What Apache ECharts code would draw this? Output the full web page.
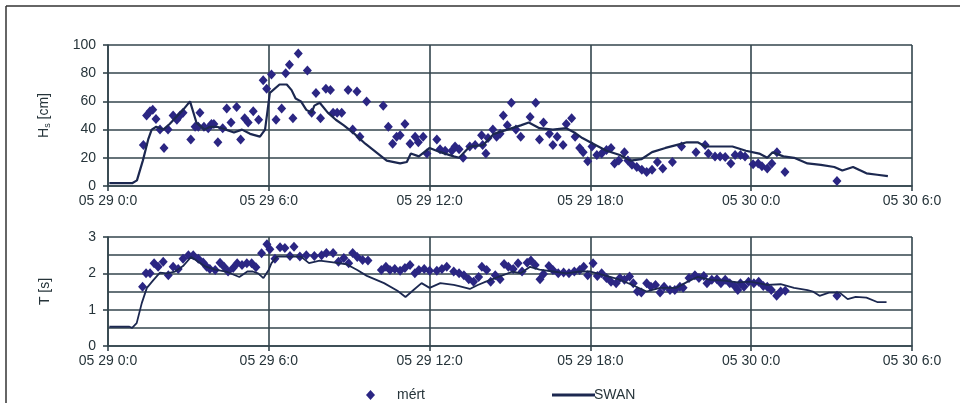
<!DOCTYPE html>
<html>
<head>
<meta charset="utf-8">
<script src="https://cdn.jsdelivr.net/npm/echarts@6/dist/echarts.min.js"></script>
<style>
  html, body { margin: 0; padding: 0; background: #fff; }
  #chart { width: 960px; height: 403px; }
</style>
</head>
<body>
<div id="chart"></div>
<script>
// Time axis: hours since 05 29 0:0, ticks every 6 hours
var xTickLabels = ['05 29 0:0', '05 29 6:0', '05 29 12:0', '05 29 18:0', '05 30 0:0', '05 30 6:0'];

// Measured significant wave height (mért), hours / cm
var measHsHours = [1.32,1.44,1.57,1.67,1.79,1.94,2.09,2.24,2.43,2.57,2.69,2.8,3.09,3.25,3.37,3.43,3.58,3.74,3.86,3.95,4.1,4.28,4.43,4.59,4.8,4.95,5.1,5.23,5.42,5.62,5.79,5.92,6.1,6.27,6.48,6.63,6.77,6.9,7.1,7.44,7.6,7.76,7.93,8.13,8.3,8.4,8.55,8.72,8.96,9.13,9.29,9.4,9.65,10.27,10.46,10.62,10.77,10.9,11.08,11.27,11.46,11.58,11.76,11.9,12.27,12.39,12.58,12.83,12.95,13.1,13.25,13.5,13.7,13.94,13.98,14.1,14.18,14.36,14.5,14.63,14.75,14.9,15.05,15.22,15.4,15.75,15.96,16.1,16.25,16.47,16.6,16.76,16.98,17.1,17.3,17.43,17.6,17.73,17.9,18.06,18.24,18.42,18.6,18.77,18.9,19.06,19.27,19.4,19.55,19.73,19.92,20.1,20.3,20.5,20.7,21.06,21.4,21.94,22.28,22.4,22.65,22.84,23.03,23.24,23.4,23.6,23.77,24.07,24.26,24.4,24.6,24.77,24.96,25.26,27.2];
var measHs = [29,50,53,54,47.5,40,27,40,50,47,50,52,33,42,42,52,42,41,44,44,31,41,55,45,56,33,48,45,53,47,75,69,79,47,55,80,86,48,94,82,52,66,48,69,68,52,52,52,68,40,67,35,60,57,42,30,35,36,44,30,35,31,35,23,33,26,25,25,28,26,20,28,29,36,29,23,34,40,35,37,50,43,59,40,35,49,59,33,45,37,29,35,29,44,48,35,27,24,17.5,28,22,23,25.5,27,16,18,24,18,15,13.5,11.5,10,11.5,17,12.5,17,28,24,29,23,21,21,20.5,16,22,22,21,15.5,16,14,12.5,16,24,10,3.5];

// SWAN model significant wave height, hours / cm
var swanHsHours = [0.05,0.7,0.9,1.08,1.3,1.5,1.63,1.8,2.06,2.3,2.6,2.8,3.06,3.3,3.6,3.8,4.07,4.4,4.7,5.0,5.3,5.67,5.86,6.04,6.4,6.67,6.85,7.0,7.2,7.4,7.6,7.7,7.9,8.2,8.5,8.8,9.2,9.6,10.0,10.4,10.9,11.15,11.3,11.6,12.0,12.4,12.9,13.1,13.5,14.0,14.4,14.9,15.4,15.7,16.1,16.6,17.1,17.4,17.7,18.1,18.6,19.1,19.5,19.9,20.3,20.8,21.2,21.6,22.0,22.3,22.7,23.3,23.8,24.3,24.6,24.8,25.2,25.6,26.1,26.6,27.1,27.4,27.8,28.3,28.7,29.1];
var swanHs = [2,2,2,4,18,33,40,42,40,44,50,54,60,45,40,42,42,40,38,40,37,35,40,66,72,72,68,62,60,54,52,57,59,52,47,43,37,30,24,18,16,17,23,21,27,24,21,20,28,29,37,40,43,45,41,40,41,38,34,30,25,22,18,19,24,27,29,31,31,28,28,28,25,23,20,24,21,20,16,15,13.5,11,13.5,9,8,7];

// Measured wave period (mért), hours / s
var measTHours = [1.29,1.42,1.57,1.72,1.87,2.06,2.25,2.43,2.62,2.8,3.0,3.18,3.37,3.55,3.68,3.8,4.0,4.18,4.33,4.48,4.67,4.82,5.0,5.18,5.36,5.52,5.73,5.93,6.04,6.23,6.42,6.6,6.79,6.94,7.16,7.4,7.7,7.97,8.15,8.4,8.6,8.8,8.98,9.13,9.3,9.5,9.7,10.2,10.37,10.52,10.7,10.9,11.08,11.27,11.45,11.6,11.8,12.0,12.27,12.46,12.64,12.9,13.1,13.28,13.46,13.64,13.83,13.95,14.13,14.28,14.45,14.63,14.78,14.94,15.12,15.3,15.45,15.64,15.78,15.94,16.12,16.25,16.45,16.6,16.8,17.0,17.2,17.4,17.6,17.75,17.9,18.1,18.26,18.42,18.6,18.77,18.96,19.1,19.27,19.46,19.6,19.75,19.9,20.1,20.26,20.43,20.6,20.75,20.97,21.15,21.34,21.46,21.68,21.9,22.05,22.23,22.35,22.53,22.72,22.87,23.03,23.2,23.38,23.5,23.6,23.73,23.9,24.1,24.28,24.45,24.6,24.75,24.95,25.1,25.27,27.2];
var measT = [1.63,2.0,2.0,2.28,2.18,2.32,1.95,2.18,2.12,2.4,2.5,2.5,2.4,2.3,2.18,2.12,2.09,2.29,2.18,2.05,2.15,2.28,2.23,2.28,2.28,2.17,2.55,2.8,2.66,2.4,2.72,2.7,2.48,2.73,2.46,2.5,2.48,2.5,2.56,2.56,2.32,2.42,2.28,2.56,2.45,2.37,2.35,2.09,2.18,2.09,2.12,2.07,2.15,2.23,2.0,2.09,2.12,2.07,2.07,2.12,2.18,2.05,2.0,1.95,1.84,1.77,1.9,2.18,2.09,1.77,1.95,1.84,2.26,2.18,2.12,2.28,2.05,2.29,2.35,2.23,1.84,1.98,2.2,2.09,2.0,2.02,2.0,2.05,2.09,2.18,1.95,2.28,1.93,2.0,1.87,1.77,1.73,1.87,1.82,1.91,1.73,1.5,1.47,1.73,1.63,1.68,1.47,1.63,1.54,1.54,1.63,1.6,1.87,1.95,1.87,1.93,1.73,1.82,1.84,1.73,1.82,1.73,1.65,1.54,1.73,1.63,1.77,1.73,1.77,1.65,1.63,1.54,1.38,1.5,1.52,1.38];

// SWAN model wave period, hours / s
var swanTHours = [0.05,0.8,0.9,1.07,1.26,1.45,1.7,1.94,2.2,2.5,2.8,3.1,3.3,3.6,4.0,4.4,4.9,5.2,5.4,5.6,5.8,6.0,6.1,6.3,7.2,7.5,7.9,8.4,8.9,9.3,9.66,10.3,10.8,11.1,11.4,11.7,12.0,12.4,12.9,13.1,13.5,13.8,14.1,14.6,15.1,15.4,15.75,16.1,16.6,17.1,17.6,18.0,18.5,19.0,19.5,20.1,20.6,21.2,21.7,22.0,22.5,23.0,23.5,23.95,24.6,25.1,25.6,26.1,26.3,26.55,26.9,27.3,27.6,27.9,28.3,28.7,29.05];
var swanT = [0.53,0.53,0.5,0.63,1.18,1.6,1.82,2.02,2.0,2.05,2.2,2.45,2.35,2.2,2.1,2.05,1.9,2.05,2.05,2.0,1.87,2.1,2.28,2.46,2.46,2.28,2.35,2.3,2.25,2.09,1.93,1.73,1.52,1.35,1.54,1.73,1.6,1.73,1.68,1.65,1.57,1.68,1.77,1.91,2.05,2.0,2.18,2.1,2.05,2.0,2.05,2.05,1.95,1.85,1.7,1.5,1.6,1.6,1.8,1.9,1.82,1.8,1.75,1.77,1.68,1.7,1.6,1.54,1.5,1.38,1.47,1.47,1.29,1.35,1.33,1.21,1.21];

function pairs(xs, ys) {
  return xs.map(function (x, i) { return [x, ys[i]]; });
}

var dotColor = '#2b2683';
var lineColor = '#1c2850';
var gridColor = '#33454d';
var textColor = '#26343a';
var font = '"Liberation Sans", Arial, sans-serif';

function xAxisFor(gridIndex) {
  return {
    type: 'value', gridIndex: gridIndex, min: 0, max: 30, interval: 6,
    axisLine: { show: true, onZero: false, lineStyle: { color: gridColor, width: 1.6 } },
    axisTick: { show: true, inside: false, length: 5, lineStyle: { color: gridColor, width: 1.6 } },
    axisLabel: {
      margin: 8, color: textColor, fontFamily: font, fontSize: 14,
      formatter: function (v) { return xTickLabels[Math.round(v / 6)]; }
    },
    splitLine: { show: true, lineStyle: { color: gridColor, width: 1.6 } }
  };
}

var chart = echarts.init(document.getElementById('chart'), null, { renderer: 'canvas' });
chart.setOption({
  backgroundColor: '#ffffff',
  animation: false,
  grid: [
    { left: 108, right: 48, top: 45, height: 141 },
    { left: 108, right: 48, top: 237, height: 109 }
  ],
  xAxis: [xAxisFor(0), xAxisFor(1)],
  yAxis: [
    {
      type: 'value', gridIndex: 0, min: 0, max: 100, interval: 20,
      name: 'H{s|s} [cm]', nameLocation: 'middle', nameGap: 56, nameRotate: 90,
      nameTextStyle: {
        color: textColor, fontFamily: font, fontSize: 14,
        rich: { s: { fontSize: 9, color: textColor, fontFamily: font, verticalAlign: 'bottom', padding: [6, 0, 0, 0] } }
      },
      axisLine: { show: true, lineStyle: { color: gridColor, width: 1.6 } },
      axisTick: { show: true, length: 5, lineStyle: { color: gridColor, width: 1.6 } },
      axisLabel: { margin: 12, color: textColor, fontFamily: font, fontSize: 14 },
      splitLine: { show: true, lineStyle: { color: gridColor, width: 1.6 } }
    },
    {
      type: 'value', gridIndex: 1, min: 0, max: 3, interval: 1,
      name: 'T [s]', nameLocation: 'middle', nameGap: 56, nameRotate: 90,
      nameTextStyle: { color: textColor, fontFamily: font, fontSize: 14 },
      axisLine: { show: true, lineStyle: { color: gridColor, width: 1.6 } },
      axisTick: { show: true, length: 5, lineStyle: { color: gridColor, width: 1.6 } },
      axisLabel: { margin: 12, color: textColor, fontFamily: font, fontSize: 14 },
      splitLine: { show: true, lineStyle: { color: gridColor, width: 1.6 } },
      minorTick: { show: false, splitNumber: 2 },
      minorSplitLine: { show: true, lineStyle: { color: gridColor, width: 1.6 } }
    }
  ],
  legend: [
    {
      data: [{ name: 'mért', icon: 'diamond' }],
      left: 361, top: 383, itemWidth: 9, itemHeight: 10,
      itemStyle: { opacity: 1 },
      textStyle: { color: textColor, fontFamily: font, fontSize: 14, padding: [0, 0, 0, 17] }
    },
    {
      data: [{ name: 'SWAN', icon: 'rect' }],
      left: 547, top: 383, itemWidth: 43, itemHeight: 3,
      textStyle: { color: textColor, fontFamily: font, fontSize: 14, padding: [0, 0, 0, -6] }
    }
  ],
  graphic: [
    { type: 'line', shape: { x1: 6, y1: 6, x2: 960, y2: 6 }, style: { stroke: '#333', lineWidth: 1.5 } },
    { type: 'line', shape: { x1: 6, y1: 6, x2: 6, y2: 403 }, style: { stroke: '#333', lineWidth: 1.5 } }
  ],
  series: [
    {
      name: 'mért', type: 'scatter', xAxisIndex: 0, yAxisIndex: 0,
      symbol: 'diamond', symbolSize: [9, 10],
      itemStyle: { color: dotColor, opacity: 1 },
      data: pairs(measHsHours, measHs), z: 3
    },
    {
      name: 'SWAN', type: 'line', xAxisIndex: 0, yAxisIndex: 0,
      symbol: 'none', lineStyle: { color: lineColor, width: 2.2 },
      itemStyle: { color: lineColor },
      data: pairs(swanHsHours, swanHs), z: 4
    },
    {
      name: 'mért', type: 'scatter', xAxisIndex: 1, yAxisIndex: 1,
      symbol: 'diamond', symbolSize: [9, 10],
      itemStyle: { color: dotColor, opacity: 1 },
      data: pairs(measTHours, measT), z: 3
    },
    {
      name: 'SWAN', type: 'line', xAxisIndex: 1, yAxisIndex: 1,
      symbol: 'none', lineStyle: { color: lineColor, width: 1.8 },
      itemStyle: { color: lineColor },
      data: pairs(swanTHours, swanT), z: 4
    }
  ]
});
</script>
</body>
</html>
